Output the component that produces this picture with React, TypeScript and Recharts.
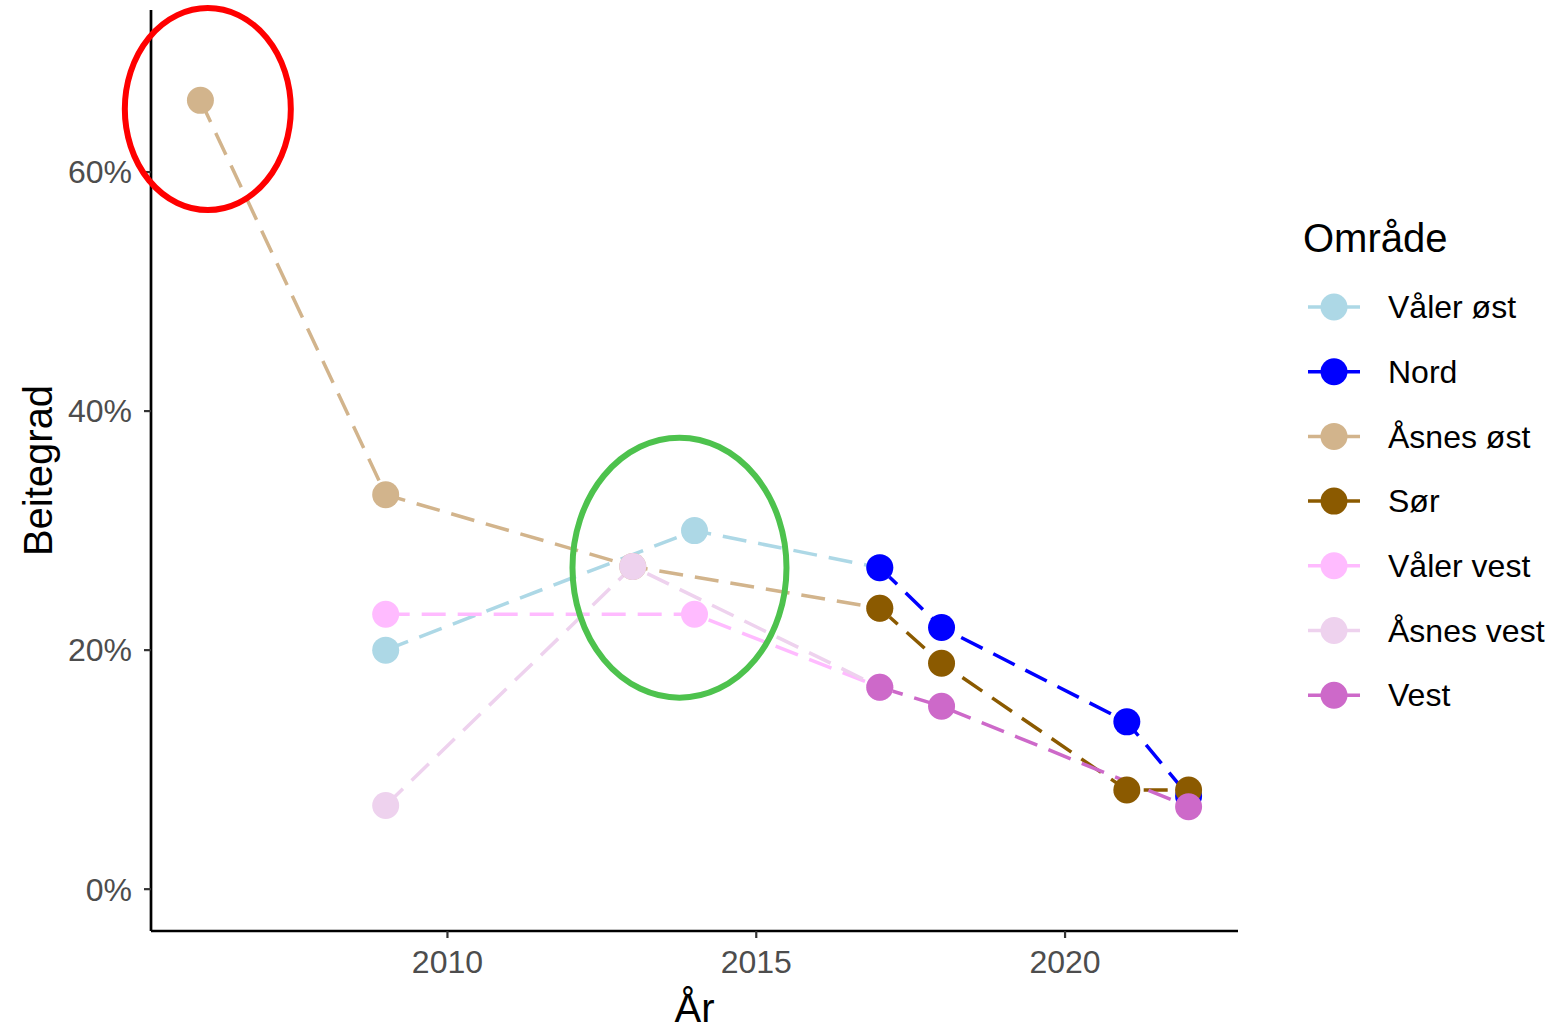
import { LineChart, Line, XAxis, YAxis, ReferenceDot } from 'recharts'

const FONT = '"Liberation Sans", Arial, sans-serif'

// Beitegrad per område og år (andel)
const valerOst = [
  { year: 2009, v: 0.2 },
  { year: 2014, v: 0.3 },
  { year: 2017, v: 0.269 },
]
const nord = [
  { year: 2017, v: 0.269 },
  { year: 2018, v: 0.219 },
  { year: 2021, v: 0.14 },
  { year: 2022, v: 0.078 },
]
const asnesOst = [
  { year: 2006, v: 0.66 },
  { year: 2009, v: 0.33 },
  { year: 2013, v: 0.27 },
  { year: 2017, v: 0.235 },
]
const sor = [
  { year: 2017, v: 0.235 },
  { year: 2018, v: 0.189 },
  { year: 2021, v: 0.083 },
  { year: 2022, v: 0.083 },
]
const valerVest = [
  { year: 2009, v: 0.23 },
  { year: 2014, v: 0.23 },
  { year: 2017, v: 0.169 },
]
const asnesVest = [
  { year: 2009, v: 0.07 },
  { year: 2013, v: 0.27 },
  { year: 2017, v: 0.169 },
]
const vest = [
  { year: 2017, v: 0.169 },
  { year: 2018, v: 0.153 },
  { year: 2022, v: 0.069 },
]

const series = [
  { name: 'Våler øst', data: valerOst, color: '#ADD8E6' },
  { name: 'Nord', data: nord, color: '#0000FF' },
  { name: 'Åsnes øst', data: asnesOst, color: '#D2B48C' },
  { name: 'Sør', data: sor, color: '#8B5A00' },
  { name: 'Våler vest', data: valerVest, color: '#FFBBFF' },
  { name: 'Åsnes vest', data: asnesVest, color: '#EED2EE' },
  { name: 'Vest', data: vest, color: '#CD69C9' },
]

const xTicks = [2010, 2015, 2020]
const yTicks = [0, 0.2, 0.4, 0.6]

const DOT_R = 13.5

const LegendBox = () => (
  <svg width={257} height={520} style={{ display: 'block' }}>
    <text x={8} y={52} fontSize={40} fontFamily={FONT} fill="#000">Område</text>
    {series.map((s, i) => {
      const cy = 107 + i * 64.7
      return (
        <g key={s.name}>
          <line x1={13} x2={65} y1={cy} y2={cy} stroke={s.color} strokeWidth={3.5} />
          <circle cx={39} cy={cy} r={DOT_R} fill={s.color} />
          <text x={93} y={cy} dy="0.35em" fontSize={32} fontFamily={FONT} fill="#000">{s.name}</text>
        </g>
      )
    })}
  </svg>
)

const YTitle = (props: any) => {
  const vb = props.viewBox
  const cy = vb.y + vb.height / 2
  return (
    <text x={52} y={cy} transform={`rotate(-90, 52, ${cy})`} textAnchor="middle"
      fontSize={40} fontFamily={FONT} fill="#000">Beitegrad</text>
  )
}

const ellipse = (rx: number, ry: number, color: string) => (props: any) => (
  <ellipse cx={props.cx} cy={props.cy} rx={rx} ry={ry} fill="none" stroke={color} strokeWidth={6} />
)

export default function App() {
  return (
    <div style={{ position: 'absolute', left: 0, top: 0, width: 1552, height: 1029, background: '#fff' }}>
      <LineChart width={1552} height={1029} margin={{ top: 10, right: 314, bottom: 0, left: 0 }}>
        <XAxis
          dataKey="year"
          type="number"
          domain={[2005.2, 2022.8]}
          ticks={xTicks}
          height={98}
          tickSize={7}
          tickMargin={12}
          tick={{ fill: '#4D4D4D', fontSize: 32, fontFamily: FONT }}
          axisLine={{ stroke: '#000', strokeWidth: 2.7 }}
          tickLine={{ stroke: '#333', strokeWidth: 2.2 }}
          allowDataOverflow
          label={{ value: 'År', position: 'insideBottom', offset: 7, fontSize: 40, fontFamily: FONT, fill: '#000' }}
        />
        <YAxis
          type="number"
          domain={[-0.035, 0.7356]}
          ticks={yTicks}
          width={151}
          tickSize={7}
          tickMargin={12}
          tickFormatter={(v: number) => `${Math.round(v * 100)}%`}
          tick={{ fill: '#4D4D4D', fontSize: 32, fontFamily: FONT }}
          axisLine={{ stroke: '#000', strokeWidth: 2.7 }}
          tickLine={{ stroke: '#333', strokeWidth: 2.2 }}
          allowDataOverflow
          label={<YTitle />}
        />
        {series.map((s) => (
          <Line
            key={`line-${s.name}`}
            data={s.data}
            dataKey="v"
            name={s.name}
            stroke={s.color}
            strokeWidth={3.5}
            strokeDasharray="24 12"
            dot={false}
            activeDot={false}
            isAnimationActive={false}
          />
        ))}
        {series.map((s) => (
          <Line
            key={`pts-${s.name}`}
            data={s.data}
            dataKey="v"
            stroke="none"
            legendType="none"
            dot={{ r: DOT_R, fill: s.color, stroke: 'none' }}
            activeDot={false}
            isAnimationActive={false}
          />
        ))}
        <ReferenceDot x={2006.12} y={0.6527} ifOverflow="visible" shape={ellipse(83, 101, '#FF0000')} />
        <ReferenceDot x={2013.757} y={0.269} ifOverflow="visible" shape={ellipse(107, 130, '#4DC24D')} />
      </LineChart>
      <div style={{ position: 'absolute', left: 1295, top: 200 }}>
        <LegendBox />
      </div>
    </div>
  )
}
